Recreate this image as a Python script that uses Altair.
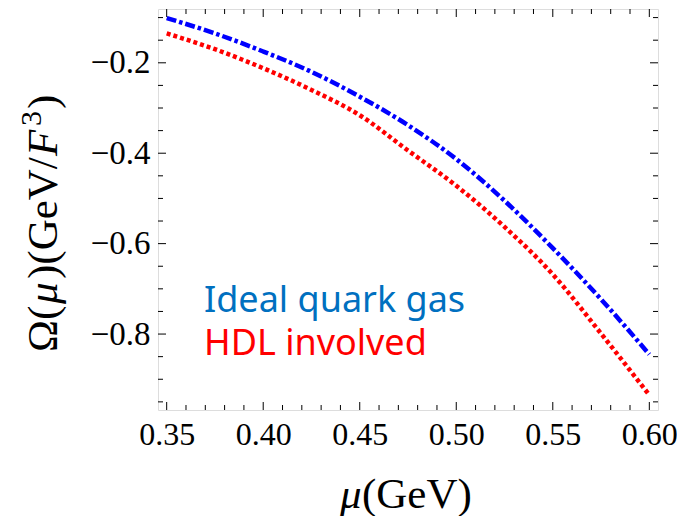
import altair as alt
import pandas as pd

# data
mu = [0.35, 0.375, 0.40, 0.425, 0.45, 0.475, 0.50, 0.525, 0.55, 0.575, 0.60]
omega_ideal = [-0.101, -0.135, -0.175, -0.220, -0.275, -0.338, -0.413, -0.505, -0.610, -0.723, -0.845]
omega_hdl = [-0.135, -0.170, -0.212, -0.260, -0.316, -0.394, -0.472, -0.563, -0.668, -0.799, -0.935]

x_major = [0.35, 0.40, 0.45, 0.50, 0.55, 0.60]
x_minor = [0.36, 0.37, 0.38, 0.39, 0.41, 0.42, 0.43, 0.44, 0.46, 0.47, 0.48, 0.49,
           0.51, 0.52, 0.53, 0.54, 0.56, 0.57, 0.58, 0.59]
y_major = [-0.8, -0.6, -0.4, -0.2]
y_minor = [-0.95, -0.9, -0.85, -0.75, -0.7, -0.65, -0.55, -0.5, -0.45, -0.35, -0.3, -0.25, -0.15, -0.1]

legend_texts = ["Ideal quark gas", "HDL involved"]

X_DOMAIN = [0.3455, 0.6045]
Y_DOMAIN = [-0.968, -0.081]
W, H = 500, 401
L, T = 158, 9  # page position of plot's top-left corner

df_ideal = pd.DataFrame({"mu": mu, "omega": omega_ideal})
df_hdl = pd.DataFrame({"mu": mu, "omega": omega_hdl})

xs = alt.Scale(domain=X_DOMAIN, nice=False, zero=False)
ys = alt.Scale(domain=Y_DOMAIN, nice=False, zero=False)

serif = "Liberation Serif"

x_axis = alt.Axis(values=x_major, format=".2f", tickSize=0, domain=False, grid=False,
                  labelFont=serif, labelFontSize=32, labelColor="black", labelPadding=9,
                  labelFlush=False, title="")
y_axis = alt.Axis(values=y_major, format=".1f", tickSize=0, domain=False, grid=False,
                  labelExpr="replace(datum.label, '-', '−')",
                  labelFont=serif, labelFontSize=33, labelColor="black", labelPadding=8,
                  labelFlush=False, title="")

blue = alt.Chart(df_ideal).mark_line(color="#0000ff", strokeWidth=4.5, strokeDash=[10, 3, 3.5, 3],
                                     interpolate="monotone", clip=True).encode(
    x=alt.X("mu:Q", scale=xs, axis=x_axis),
    y=alt.Y("omega:Q", scale=ys, axis=y_axis),
)
red = alt.Chart(df_hdl).mark_line(color="#ff0000", strokeWidth=4.5, strokeDash=[4, 3],
                                  interpolate="monotone", clip=True).encode(
    x=alt.X("mu:Q", scale=xs),
    y=alt.Y("omega:Q", scale=ys),
)


def xticks(vals, length, top):
    d = pd.DataFrame({"v": vals})
    y0, y1 = (0, length) if top else (H, H - length)
    return alt.Chart(d).mark_rule(color="black", strokeWidth=1).encode(
        x=alt.X("v:Q", scale=xs), y=alt.value(y0), y2=alt.value(y1))


def yticks(vals, length, right):
    d = pd.DataFrame({"v": vals})
    x0, x1 = (W, W - length) if right else (0, length)
    return alt.Chart(d).mark_rule(color="black", strokeWidth=1).encode(
        y=alt.Y("v:Q", scale=ys), x=alt.value(x0), x2=alt.value(x1))


ticks = [
    xticks(x_major, 8, False), xticks(x_minor, 5, False),
    xticks(x_major, 8, True), xticks(x_minor, 5, True),
    yticks(y_major, 8, False), yticks(y_minor, 5, False),
    yticks(y_major, 8, True), yticks(y_minor, 5, True),
]


def piece(text, px, py, size, italic=False, angle=0, font=serif, color="black"):
    kw = dict(align="left", baseline="alphabetic", font=font, fontSize=size, color=color)
    if italic:
        kw["fontStyle"] = "italic"
    if angle:
        kw["angle"] = angle
    d = pd.DataFrame({"t": [text]})
    return alt.Chart(d).mark_text(**kw).encode(
        text="t:N", x=alt.value(px - L), y=alt.value(py - T))


# y-axis title  Ω(μ)(GeV/F³), rotated, built from consecutive pieces (page coordinates)
YB = 57  # baseline x
YS = 43
ytitle = [
    piece("Ω(", YB, 352, YS, angle=270),
    piece("μ", YB, 304, YS, italic=True, angle=270),
    piece(")(GeV/", YB, 279, YS, angle=270),
    piece("F", YB, 156, YS, italic=True, angle=270),
    piece("3", YB - 16, 126, 30, angle=270),
    piece(")", YB, 109, YS, angle=270),
]

# x-axis title  μ(GeV)
xtitle = [
    piece("μ", 340, 508, 43, italic=True),
    piece("(GeV)", 362, 508, 43),
]

lab1 = piece(legend_texts[0], 204, 312, 36, font="Noto Sans", color="#0070c0")
lab2 = piece(legend_texts[1], 204, 355, 36, font="Noto Sans", color="#ff0000")

chart = alt.layer(blue, red, *ticks, *ytitle, *xtitle, lab1, lab2).properties(
    width=W, height=H,
    autosize=alt.AutoSizeParams(type="none"),
    padding={"left": L - 8, "top": T - 8, "right": 19, "bottom": 106},
).configure_view(stroke="black", strokeWidth=1.2).configure(background="white")

chart.save("out.html", embed_options={"renderer": "svg", "actions": False})
